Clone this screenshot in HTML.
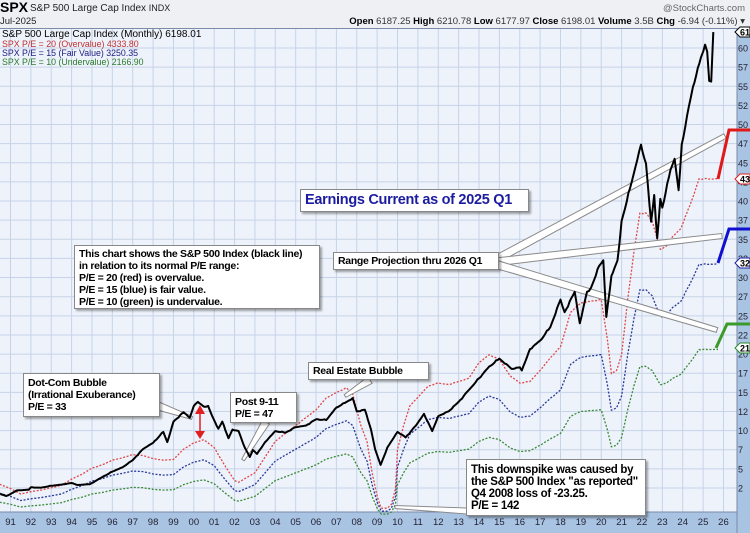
<!DOCTYPE html>
<html><head><meta charset="utf-8"><style>
html,body{margin:0;padding:0;background:#fff;}
#w{position:relative;width:750px;height:533px;overflow:hidden;font-family:"Liberation Sans",Arial,sans-serif;}
.box{position:absolute;background:#fff;border:1px solid #888;box-shadow:2px 2px 2px rgba(0,0,0,0.35);font-weight:bold;color:#000;font-size:10.5px;line-height:12px;padding:2px 4px;box-sizing:border-box;white-space:nowrap;letter-spacing:-0.3px}
</style></head><body><div id="w">
<svg id="s" width="750" height="533" style="position:absolute;left:0;top:0"></svg>
<div class="box" style="left:300px;top:189px;width:229px;height:23px;font-size:14.5px;line-height:18px;color:#1c1ca0;padding:1px 4px">Earnings Current as of 2025 Q1</div>
<div class="box" style="left:74px;top:245px;width:246px;height:64px;padding-top:2px">This chart shows the S&amp;P 500 Index (black line)<br>in relation to its normal P/E range:<br>P/E = 20 (red) is overvalue.<br>P/E = 15 (blue) is fair value.<br>P/E = 10 (green) is undervalue.</div>
<div class="box" style="left:333px;top:252px;width:166px;height:18px;padding-top:2px">Range Projection thru 2026 Q1</div>
<div class="box" style="left:23px;top:373px;width:137px;height:44px;padding-top:3px">Dot-Com Bubble<br>(Irrational Exuberance)<br>P/E = 33</div>
<div class="box" style="left:230px;top:392px;width:67px;height:31px;padding-top:3px">Post 9-11<br>P/E = 47</div>
<div class="box" style="left:308px;top:362px;width:121px;height:18px;padding-top:2px">Real Estate Bubble</div>
<div class="box" style="left:466px;top:459px;width:180px;height:57px;padding-top:4px;font-size:11.5px">This downspike was caused by<br>the S&amp;P 500 Index "as reported"<br>Q4 2008 loss of -23.25.<br>P/E = 142</div>
</div>
<script>
const s=document.getElementById('s');let h='';
const X=y=>10.5+(y-1991)*20.37, Y=v=>520-v*0.0787;
h+='<rect x="0" y="0" width="750" height="533" fill="#ffffff"/>';
h+='<rect x="0" y="0" width="750" height="28" fill="#eef0f4"/>';
h+='<rect x="0" y="28" width="737" height="484" fill="#eef3fb"/>';
h+='<rect x="737" y="28" width="13" height="505" fill="#a9c3e2"/>';
h+='<rect x="0" y="512" width="737" height="21" fill="#a9c3e2"/>';
const labs=['60','57','55','52','50','47','45','42','40','37','35','32','30','27','25','22','20','17','15','12','10','7','5','2'];
labs.forEach((l,i)=>{const y=48+i*19.13;h+=`<line x1="0" x2="737" y1="${y}" y2="${y}" stroke="#c6d3e8" stroke-width="1"/>`;
h+=`<text x="738" y="${y+3.5}" font-size="9" fill="#223">${l}</text>`;});
for(let yr=1991;yr<=2026;yr++){const x=X(yr);h+=`<line x1="${x}" x2="${x}" y1="28" y2="512" stroke="#c6d3e8" stroke-width="1"/>`;
h+=`<text x="${x}" y="525" font-size="9.5" fill="#223" text-anchor="middle">${String(yr%100).padStart(2,'0')}</text>`;}
h+='<line x1="0" x2="737" y1="28.5" y2="28.5" stroke="#7a8aa8"/><line x1="737" x2="737" y1="28" y2="533" stroke="#7a8aa8"/><line x1="0" x2="737" y1="512" y2="512" stroke="#7a8aa8"/>';
const blk=[[1990.5,330],[1990.8,305],[1991,330],[1991.3,375],[1991.9,385],[1992,415],[1992.5,410],[1993,435],[1993.5,450],[1994,470],[1994.3,445],[1994.9,455],[1995.5,545],[1996,615],[1996.5,670],[1997,760],[1997.5,900],[1997.8,950],[1998,980],[1998.5,1120],[1998.7,990],[1999,1250],[1999.5,1370],[1999.8,1300],[2000,1450],[2000.2,1500],[2000.5,1440],[2000.7,1450],[2000.9,1320],[2001.2,1160],[2001.4,1250],[2001.7,1040],[2001.9,1150],[2002.2,1130],[2002.5,920],[2002.75,800],[2002.9,890],[2003.1,840],[2003.5,990],[2004,1130],[2004.5,1110],[2005,1180],[2005.5,1200],[2006,1280],[2006.5,1270],[2007,1430],[2007.5,1500],[2007.8,1550],[2008,1380],[2008.4,1400],[2008.7,1150],[2008.9,900],[2009.17,700],[2009.5,920],[2010,1120],[2010.4,1050],[2010.9,1200],[2011.3,1350],[2011.7,1130],[2012,1320],[2012.5,1380],[2013,1500],[2013.5,1650],[2014,1800],[2014.5,1950],[2015,2050],[2015.6,1920],[2016,1940],[2016.1,1900],[2016.5,2170],[2017,2280],[2017.5,2450],[2018,2800],[2018.2,2640],[2018.7,2900],[2018.95,2500],[2019.3,2900],[2019.5,2950],[2019.9,3230],[2020.1,3300],[2020.25,2580],[2020.5,3100],[2020.8,3300],[2021,3800],[2021.5,4300],[2021.95,4770],[2022.2,4530],[2022.45,3790],[2022.6,4130],[2022.75,3580],[2022.9,4080],[2023,3970],[2023.4,4450],[2023.6,4590],[2023.8,4190],[2023.95,4770],[2024.3,5250],[2024.5,5500],[2024.9,5880],[2025.1,6040],[2025.2,5950],[2025.3,5580],[2025.4,5570],[2025.5,6200]];
const red=[[1990.3,470],[1991,400],[1991.5,330],[1992,360],[1992.5,380],[1993,410],[1993.5,440],[1994,520],[1994.5,580],[1995,660],[1995.5,700],[1996,760],[1996.5,790],[1997,830],[1997.5,820],[1998,780],[1998.5,760],[1999,770],[1999.5,900],[2000,980],[2000.5,1020],[2001,920],[2001.5,700],[2002,500],[2002.2,480],[2002.6,540],[2003,600],[2003.5,800],[2004,1000],[2004.5,1100],[2005,1200],[2005.5,1300],[2006,1400],[2006.5,1550],[2007,1620],[2007.5,1680],[2007.8,1600],[2008.2,1200],[2008.5,1000],[2008.75,600],[2009,300],[2009.2,150],[2009.5,150],[2009.7,200],[2009.9,400],[2010,900],[2010.3,1200],[2010.6,1450],[2011,1560],[2011.5,1700],[2012,1740],[2012.5,1720],[2013,1760],[2013.5,1800],[2014,2000],[2014.5,2100],[2015,2040],[2015.5,1840],[2016,1740],[2016.5,1760],[2017,1900],[2017.5,2060],[2018,2200],[2018.5,2640],[2019,2760],[2019.5,2780],[2020,2800],[2020.3,2300],[2020.5,1860],[2020.75,1900],[2021,2100],[2021.3,2800],[2021.6,3400],[2021.9,3900],[2022.2,3900],[2022.5,3800],[2022.9,3440],[2023.2,3480],[2023.5,3600],[2023.9,3700],[2024.2,3900],[2024.5,4100],[2024.8,4334],[2025.73,4334]];
function wig(a,amp){const o=[];for(let i=0;i<a.length-1;i++){const [x0,v0]=a[i],[x1,v1]=a[i+1];const n=Math.max(1,Math.round((x1-x0)*12));for(let k=0;k<n;k++){const t=k/n;let v=v0+(v1-v0)*t;if(k>0)v+=amp*v*Math.sin(i*7.3+k*2.9)*0.5*(Math.sin(k*1.7+i)+0.3);o.push([x0+(x1-x0)*t,v]);}}o.push(a[a.length-1]);return o;}
const P=(a,m=1)=>a.map((p,i)=>(i?'L':'M')+X(p[0]).toFixed(1)+','+Y(p[1]*m).toFixed(1)).join('');
const rw=wig(red,0.004);
h+=`<path d="${P(rw,0.5)}" fill="none" stroke="#3a8a3a" stroke-width="1.3" stroke-dasharray="2 1.6"/>`;
h+=`<path d="${P(rw,0.75)}" fill="none" stroke="#2a3a9a" stroke-width="1.3" stroke-dasharray="2 1.6"/>`;
h+=`<path d="${P(rw,1)}" fill="none" stroke="#e04848" stroke-width="1.3" stroke-dasharray="2 1.6"/>`;
// callout wedges (start wide, end ~4px)
function wedge(x0,y0,x1,y1,w0,w1){const dx=x1-x0,dy=y1-y0,L=Math.hypot(dx,dy),nx=-dy/L,ny=dx/L;
return `<polygon points="${x0+nx*w0},${y0+ny*w0} ${x1+nx*w1},${y1+ny*w1} ${x1-nx*w1},${y1-ny*w1} ${x0-nx*w0},${y0-ny*w0}" fill="#fff" stroke="#8a8a8a" stroke-width="1"/>`;}
h+=wedge(495,260,725,136,4,2.5)+wedge(495,262,722,236,4,2.5)+wedge(495,264,717,330,4,2.5);
h+=wedge(158,406,192,418,4,1.5)+wedge(266,422,243,460,4,1.5)+wedge(370,380,345,396,4,1.5)+wedge(467,511,395,507,3,1.5);
h+=`<path d="${P(wig(blk,0.009))}" fill="none" stroke="#000" stroke-width="2" stroke-linejoin="round"/>`;
h+='<polyline points="718,179 729,130 750,130" fill="none" stroke="#e01818" stroke-width="3"/>';
h+='<polyline points="718,263 729,229 750,229" fill="none" stroke="#1010d0" stroke-width="3"/>';
h+='<polyline points="716,348 727,324 750,324" fill="none" stroke="#3a9a2a" stroke-width="3"/>';
h+='<line x1="200" y1="412" x2="200" y2="433" stroke="#e02020" stroke-width="1.5"/><polygon points="195,414 205,414 200,405" fill="#e02020"/><polygon points="195,431 205,431 200,439" fill="#e02020"/>';
const tag=(y,t,c)=>`<polygon points="735,${y} 740,${y-5} 750,${y-5} 750,${y+5} 740,${y+5}" fill="#fff" stroke="${c}"/><text x="740" y="${y+3.5}" font-size="9" font-weight="bold" fill="#000">${t}</text>`;
h+=tag(32,'61','#000')+tag(179,'43','#e02020')+tag(263,'32','#2020a0')+tag(348,'21','#2a8a2a');
h+='<text x="0" y="12" font-size="14" font-weight="bold" fill="#000">SPX</text><text x="30" y="11" font-size="10" fill="#222">S&amp;P 500 Large Cap Index <tspan font-size="9">INDX</tspan></text>';
h+='<text x="745" y="11" font-size="9.5" fill="#666" text-anchor="end">@StockCharts.com</text>';
h+='<text x="0" y="24" font-size="9.5" fill="#222">Jul-2025</text>';
h+='<text x="745" y="24" font-size="9.5" fill="#333" text-anchor="end"><tspan font-weight="bold" fill="#000">Open</tspan> 6187.25 <tspan font-weight="bold" fill="#000">High</tspan> 6210.78 <tspan font-weight="bold" fill="#000">Low</tspan> 6177.97 <tspan font-weight="bold" fill="#000">Close</tspan> 6198.01 <tspan font-weight="bold" fill="#000">Volume</tspan> 3.5B <tspan font-weight="bold" fill="#000">Chg</tspan> -6.94 (-0.11%) ▾</text>';
h+='<text x="2" y="37" font-size="10" fill="#000">S&amp;P 500 Large Cap Index (Monthly) 6198.01</text>';
h+='<text x="2" y="47" font-size="8.8" fill="#c03030">SPX P/E = 20 (Overvalue) 4333.80</text>';
h+='<text x="2" y="56" font-size="8.8" fill="#202080">SPX P/E = 15 (Fair Value) 3250.35</text>';
h+='<text x="2" y="65" font-size="8.8" fill="#2a7a2a">SPX P/E = 10 (Undervalue) 2166.90</text>';
s.innerHTML=h;
</script>
</body></html>
